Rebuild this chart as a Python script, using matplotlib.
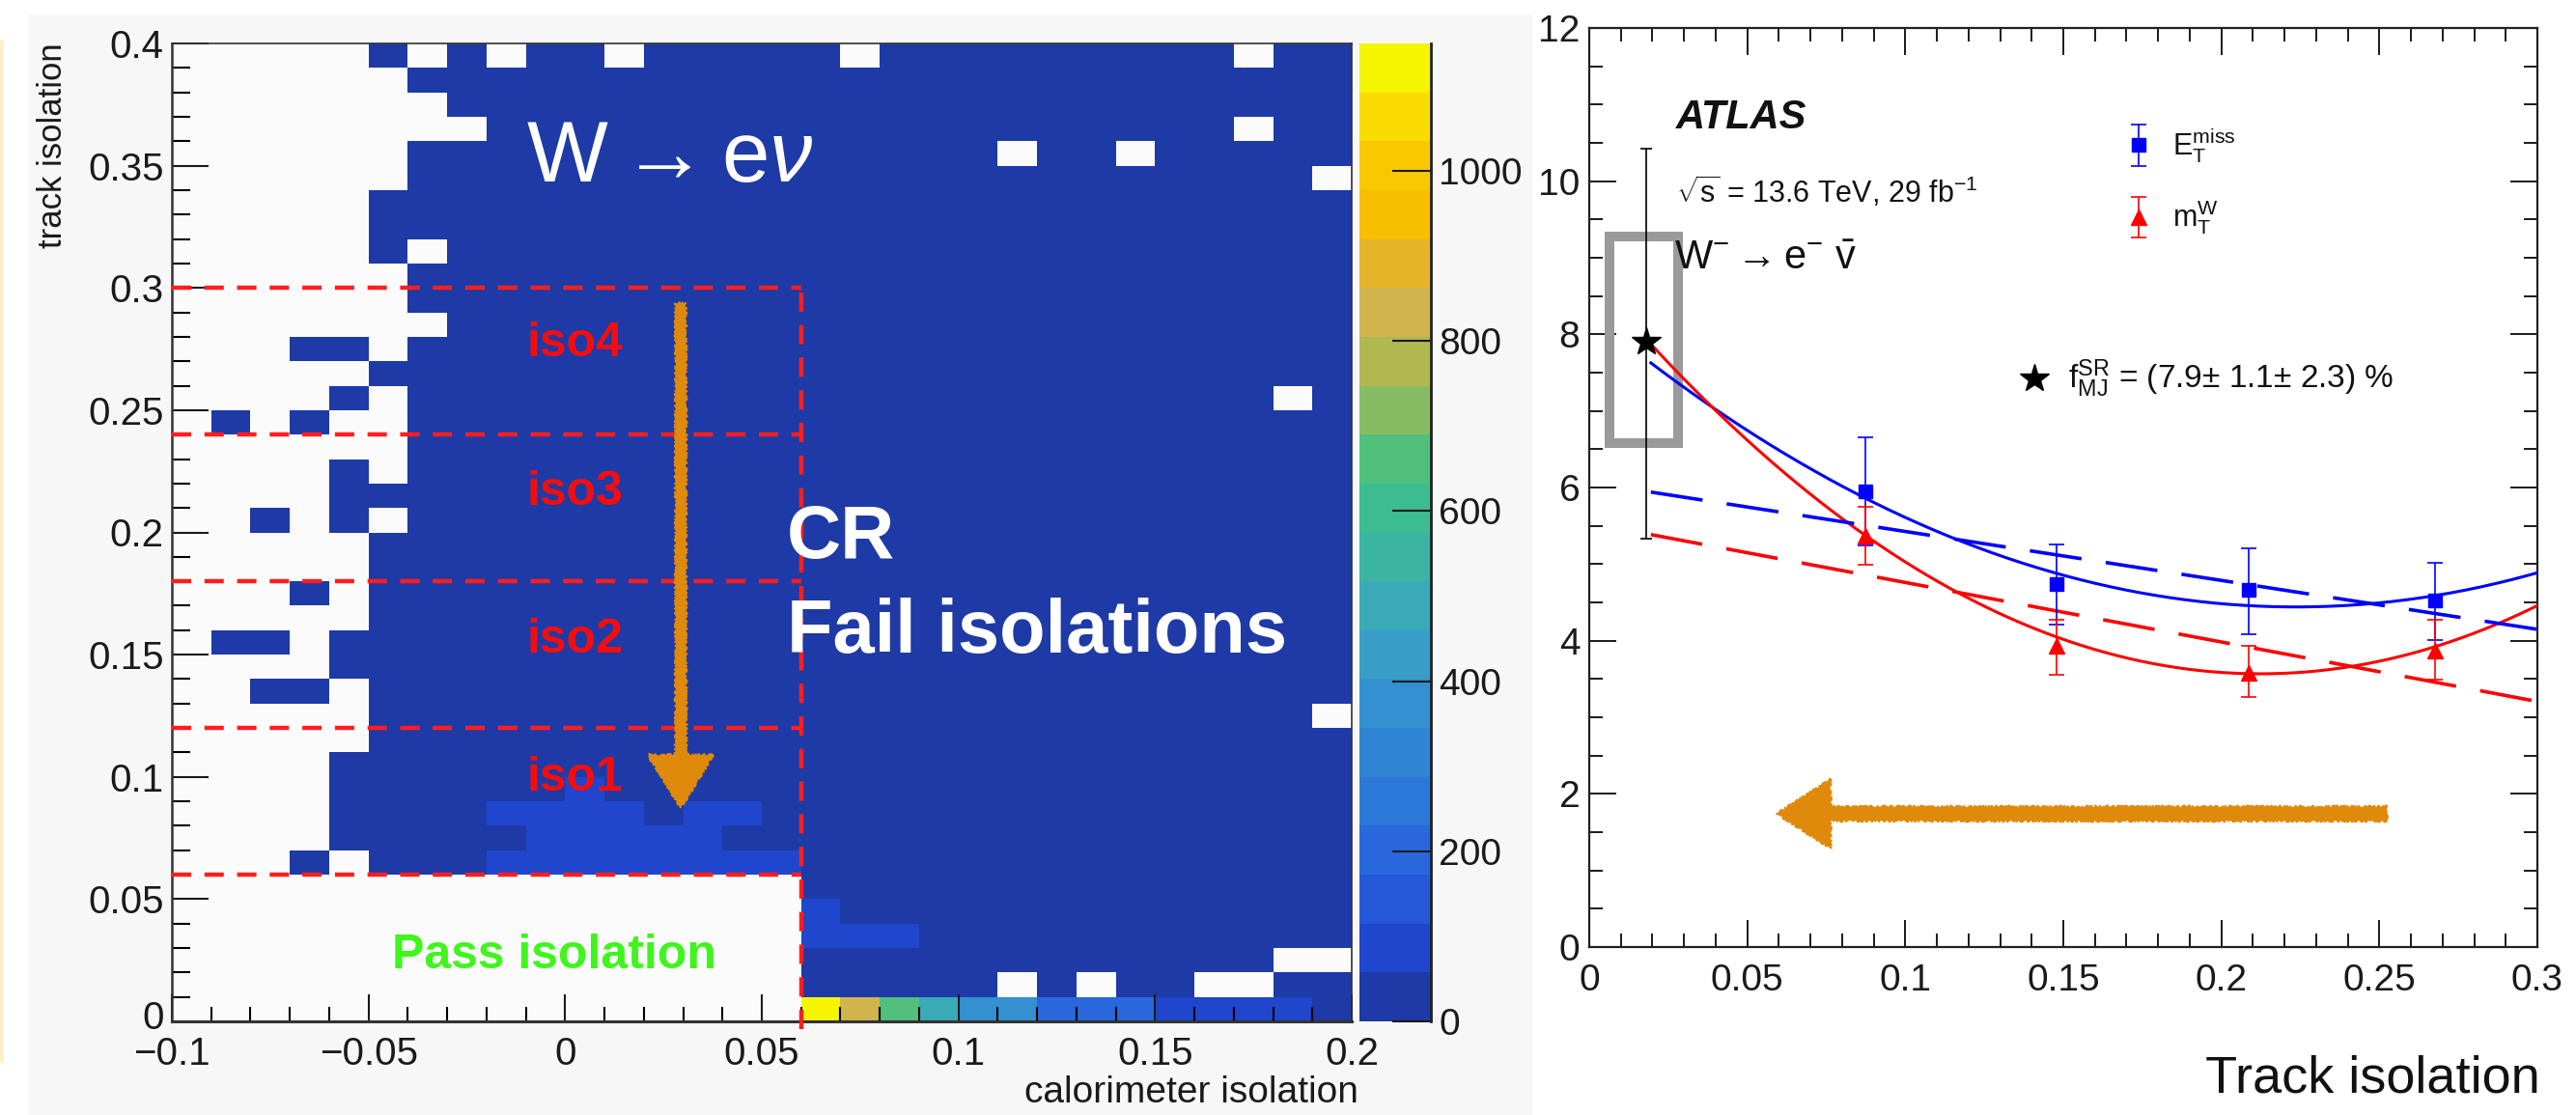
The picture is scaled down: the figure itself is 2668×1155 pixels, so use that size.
import numpy as np
import matplotlib
matplotlib.use("Agg")
import matplotlib.pyplot as plt
import matplotlib.transforms as mtransforms
from matplotlib.colors import ListedColormap, BoundaryNorm
from matplotlib.patches import Rectangle, FancyArrow
from matplotlib.ticker import MultipleLocator, FuncFormatter

plt.rcParams['font.family'] = ['Liberation Sans', 'DejaVu Sans']
plt.rcParams['mathtext.fontset'] = 'custom'
plt.rcParams['mathtext.rm'] = 'Liberation Sans'
plt.rcParams['mathtext.it'] = 'Liberation Sans:italic'
plt.rcParams['mathtext.bf'] = 'Liberation Sans:bold'
plt.rcParams['mathtext.sf'] = 'Liberation Sans'

# ---------------- 2D histogram: calorimeter vs track isolation ----------------
calo_edges = np.round(np.linspace(-0.10, 0.20, 31), 3)
track_edges = np.round(np.linspace(0.0, 0.40, 41), 3)

# occupancy map, top row = track isolation 0.39-0.40, columns from calo -0.10
# '.' empty bin, 'o' low-count bin, 'b' slightly higher-count bin
occupancy_rows = [
    ".....o.o.oo.ooooo.ooooooooo.oo",
    "......oooooooooooooooooooooooo",
    ".......ooooooooooooooooooooooo",
    "........ooooooooooooooooooo.oo",
    "......ooooooooooooooo.oo.ooooo",
    "......ooooooooooooooooooooooo.",
    ".....ooooooooooooooooooooooooo",
    ".....ooooooooooooooooooooooooo",
    ".....o.ooooooooooooooooooooooo",
    "......oooooooooooooooooooooooo",
    "......oooooooooooooooooooooooo",
    ".......ooooooooooooooooooooooo",
    "...oo.oooooooooooooooooooooooo",
    ".....ooooooooooooooooooooooooo",
    "....o.oooooooooooooooooooooo.o",
    ".o.o..oooooooooooooooooooooooo",
    "......oooooooooooooooooooooooo",
    "....o.oooooooooooooooooooooooo",
    "....oooooooooooooooooooooooooo",
    "..o.o.oooooooooooooooooooooooo",
    ".....ooooooooooooooooooooooooo",
    ".....ooooooooooooooooooooooooo",
    "...o.ooooooooooooooooooooooooo",
    ".....ooooooooooooooooooooooooo",
    ".oo.oooooooooooooooooooooooooo",
    "....oooooooooooooooooooooooooo",
    "..oo.ooooooooooooooooooooooooo",
    ".....oooooooooooooooooooooooo.",
    ".....ooooooooooooooooooooooooo",
    "....oooooooooooooooooooooooooo",
    "....oooooobooooooooooooooooooo",
    "....oooobbbbobbooooooooooooooo",
    "....ooooobbbbboooooooooooooooo",
    "...o.ooobbbbbbbboooooooooooooo",
    "................oooooooooooooo",
    "................booooooooooooo",
    "................bbbooooooooooo",
    "................oooooooooooo..",
    "................ooooo.o.oo..oo",
    "................oooooooooooooo",
]
code_counts = {".": 0, "o": 25, "b": 90}
# lowest track-isolation row (0-0.01) for calo bins 0.06 ... 0.20
first_row_counts = [1140, 830, 660, 460, 370, 370, 200, 200, 200, 90, 90, 90, 90, 25]

counts = np.zeros((40, 30))
for i, row in enumerate(occupancy_rows):
    counts[39 - i] = [code_counts[c] for c in row]
counts[0, 16:] = first_row_counts
counts = np.ma.masked_equal(counts, 0)

palette = ["#1e3aa6", "#1f46cc", "#2458d8", "#2868dc", "#2c78d8",
           "#3084d4", "#3490d0", "#389ec8", "#3aaab8", "#3cb4a4",
           "#3cbc90", "#50c07c", "#88bc64", "#b0b850", "#d0b44c",
           "#e6b428", "#f8be00", "#f8c800", "#fadc00", "#f5f500"]
z_max = 1150
levels = np.linspace(0, z_max, 21)
cbar_ticks = [0, 200, 400, 600, 800, 1000]

iso_cuts = [0.06, 0.12, 0.18, 0.24, 0.30]
iso_names = ["iso1", "iso2", "iso3", "iso4"]
iso_label_y = [0.0995, 0.156, 0.2164, 0.2772]

# ---------------- fake-fraction vs track isolation ----------------
trk_x = [0.0875, 0.148, 0.2088, 0.2675]
met_y = [5.95, 4.74, 4.66, 4.52]
met_lo = [5.24, 4.21, 4.08, 4.01]
met_hi = [6.66, 5.26, 5.20, 5.02]
mtw_y = [5.37, 3.93, 3.58, 3.87]
mtw_lo = [4.99, 3.56, 3.27, 3.49]
mtw_hi = [5.75, 4.27, 3.93, 4.27]

sr_x = 0.018
sr_y = 7.9
sr_lo = 5.33
sr_hi = 10.43

# fit parameters (polynomial coefficients, highest power first)
met_quad = [76.5, -34.21, 8.265]
mtw_quad = [115.8, -49.17, 8.787]
met_lin = [-6.39, 6.065]
mtw_lin = [-7.77, 5.537]
fit_range = [0.0195, 0.30]

# ---------------- figure ----------------
W, H = 2668, 1155
fig = plt.figure(figsize=(W / 100, H / 100), dpi=100)
fig.patch.set_facecolor("white")


def px_box(x0, y0, x1, y1):
    return [x0 / W, 1 - y1 / H, (x1 - x0) / W, (y1 - y0) / H]


# panel backdrop behind the histogram
fig.patches.append(Rectangle((29 / W, 0), 1558 / W, 1140 / H,
                             transform=fig.transFigure, facecolor="#f7f7f7",
                             edgecolor="none", zorder=-10))
fig.patches.append(Rectangle((0, 1 - 1101 / H), 4 / W, (1101 - 42) / H,
                             transform=fig.transFigure, facecolor="#fdf0c8",
                             edgecolor="none", zorder=-10))

ax = fig.add_axes(px_box(178, 45, 1400, 1058))
cax = fig.add_axes(px_box(1408, 45, 1482, 1058))
ax2 = fig.add_axes(px_box(1646, 29, 2628, 981))

# --- histogram
cmap = ListedColormap(palette)
norm = BoundaryNorm(levels, cmap.N)
ax.set_facecolor("#fbfbfb")
mesh = ax.pcolormesh(calo_edges, track_edges, counts, cmap=cmap, norm=norm)
ax.set_xlim(-0.1, 0.2)
ax.set_ylim(0, 0.4)


def fmt(v, p):
    return ("%g" % round(v, 3)).replace("-", "\u2212")


ax.xaxis.set_major_locator(MultipleLocator(0.05))
ax.xaxis.set_minor_locator(MultipleLocator(0.01))
ax.yaxis.set_major_locator(MultipleLocator(0.05))
ax.yaxis.set_minor_locator(MultipleLocator(0.01))
ax.xaxis.set_major_formatter(FuncFormatter(fmt))
ax.yaxis.set_major_formatter(FuncFormatter(fmt))
ax.tick_params(axis="x", which="major", direction="in", length=20, width=1.5,
               labelsize=29, pad=11, colors="#1a1a1a")
ax.tick_params(axis="x", which="minor", direction="in", length=11, width=1.5)
ax.tick_params(axis="y", which="major", direction="in", length=27, width=1.5,
               labelsize=29, pad=6, colors="#1a1a1a")
ax.tick_params(axis="y", which="minor", direction="in", length=14, width=1.5)
for s in ax.spines.values():
    s.set_linewidth(1.2)
    s.set_color("#333333")
ax.spines["bottom"].set_linewidth(2.2)
ax.spines["left"].set_linewidth(1.8)

# isolation region boundaries
dash = (0, (4.5, 3.1))
for yc in iso_cuts:
    ax.plot([-0.1, iso_cuts[0]], [yc, yc], color="#ff1e1e", lw=3.2,
            linestyle=dash, zorder=4, clip_on=False)
ax.plot([iso_cuts[0], iso_cuts[0]], [-0.003, iso_cuts[-1]], color="#ff1e1e",
        lw=3.2, linestyle=dash, zorder=4, clip_on=False)

for name, yl in zip(iso_names, iso_label_y):
    ax.text(-0.0099, yl, name, color="#f50d0d", fontsize=36, fontweight="bold",
            ha="left", va="center", zorder=5)
ax.text(-0.0028, 0.0268, "Pass isolation", color="#3ff51d", fontsize=36,
        fontweight="bold", ha="center", va="center", zorder=5)
ax.text(0.0564, 0.1978, "CR", color="white", fontsize=56, fontweight="bold",
        ha="left", va="center", zorder=5)
ax.text(0.0564, 0.1591, "Fail isolations", color="white", fontsize=56,
        fontweight="bold", ha="left", va="center", zorder=5)
ax.text(-0.0099, 0.3526, r"W$\rightarrow$e$\nu$", color="white", fontsize=64,
        ha="left", va="center", zorder=5)

down_arrow = FancyArrow(0.0294, 0.2938, 0, -0.2065, width=0.0027,
                        head_width=0.0167, head_length=0.0217,
                        length_includes_head=True, facecolor="#df8a0b",
                        edgecolor="#df8a0b", lw=1.0, zorder=6)
down_arrow.set_sketch_params(scale=1.2, length=6, randomness=4)
ax.add_patch(down_arrow)

# --- colour scale
cbar = fig.colorbar(mesh, cax=cax, ticks=cbar_ticks, spacing="proportional")
cbar.outline.set_visible(False)
cax.plot([1, 1], [0, 1], transform=cax.transAxes, color="#222222", lw=2,
         clip_on=False)
cax.yaxis.set_ticks_position("right")
cax.tick_params(axis="y", which="major", direction="in", length=29, width=1.5,
                labelsize=28, pad=6, colors="#1a1a1a")
cax.minorticks_off()

fig.text(55 / W, 1 - 151 / H, "track isolation", rotation=90, fontsize=25,
         ha="center", va="center", color="#1a1a1a")
fig.text(1407 / W, 1 - 1132 / H, "calorimeter isolation", fontsize=28,
         ha="right", va="center", color="#1a1a1a")

# ---------------- right panel ----------------
ax2.set_xlim(0, 0.3)
ax2.set_ylim(0, 12)
ax2.xaxis.set_major_locator(MultipleLocator(0.05))
ax2.xaxis.set_minor_locator(MultipleLocator(0.01))
ax2.yaxis.set_major_locator(MultipleLocator(2))
ax2.yaxis.set_minor_locator(MultipleLocator(0.5))
ax2.xaxis.set_major_formatter(FuncFormatter(fmt))
ax2.yaxis.set_major_formatter(FuncFormatter(fmt))
ax2.tick_params(which="both", direction="in", top=True, right=True, width=1.4,
                colors="#1a1a1a")
ax2.tick_params(which="major", length=20, labelsize=28)
ax2.tick_params(which="minor", length=10)
ax2.tick_params(axis="x", which="major", pad=12)
ax2.tick_params(axis="y", which="major", pad=7)
for s in ax2.spines.values():
    s.set_linewidth(1.6)
    s.set_color("#222222")

xf = np.linspace(fit_range[0], fit_range[1], 300)
ax2.plot(xf, np.polyval(met_quad, xf), color="#0000ff", lw=2.2, zorder=3)
ax2.plot(xf, np.polyval(mtw_quad, xf), color="#ff0000", lw=2.2, zorder=3)
ax2.plot(xf, np.polyval(met_lin, xf), color="#0000ff", lw=2.6,
         linestyle=(0, (15, 7)), zorder=3)
ax2.plot(xf, np.polyval(mtw_lin, xf), color="#ff0000", lw=2.6,
         linestyle=(0, (15, 7)), zorder=3)

met_err = [np.subtract(met_y, met_lo), np.subtract(met_hi, met_y)]
mtw_err = [np.subtract(mtw_y, mtw_lo), np.subtract(mtw_hi, mtw_y)]
ax2.errorbar(trk_x, met_y, yerr=met_err, fmt="s", color="#0000ff",
             markersize=10, elinewidth=1.2, capsize=6, capthick=1.2, zorder=4)
ax2.errorbar(trk_x, mtw_y, yerr=mtw_err, fmt="^", color="#ff0000",
             markersize=11, elinewidth=1.2, capsize=6, capthick=1.2, zorder=5)
ax2.errorbar([sr_x], [sr_y], yerr=[[sr_y - sr_lo], [sr_hi - sr_y]], fmt="*",
             color="black", markersize=22, elinewidth=1.2, capsize=4,
             capthick=1.2, zorder=6)

ax2.add_patch(Rectangle((0.0064, 6.58), 0.0217, 2.70, fill=False,
                        edgecolor="#9a9a9a", lw=7.2, joinstyle="miter",
                        zorder=2))

# legend
ax2.errorbar([0.1738], [10.47], yerr=0.27, fmt="s", color="#0000ff",
             markersize=10, elinewidth=1.2, capsize=6, capthick=1.2)
ax2.errorbar([0.1738], [9.53], yerr=0.27, fmt="^", color="#ff0000",
             markersize=11, elinewidth=1.2, capsize=6, capthick=1.2)
ax2.text(0.1845, 10.47, r"E$_{\mathrm{T}}^{\mathrm{miss}}$", fontsize=22,
         ha="left", va="center", color="#111111")
ax2.text(0.1845, 9.53, r"m$_{\mathrm{T}}^{\mathrm{W}}$", fontsize=22,
         ha="left", va="center", color="#111111")

ax2.text(0.0275, 10.83, "ATLAS", fontsize=30, fontweight="bold",
         fontstyle="italic", ha="left", va="center", color="#111111")
ax2.text(0.0275, 9.86, r"$\sqrt{\mathrm{s}}$ = 13.6 TeV, 29 fb$^{-1}$",
         fontsize=22, ha="left", va="center", color="#111111")
ax2.text(0.027, 8.99, r"W$^{-}\rightarrow$e$^{-}$ $\bar{\mathrm{v}}$",
         fontsize=30, ha="left", va="center", color="#111111")

ax2.plot([0.1409], [7.42], marker="*", color="black", markersize=22)
ax2.text(0.1515, 7.42,
         r"f$_{\mathrm{MJ}}^{\mathrm{SR}}$ = (7.9$\pm$ 1.1$\pm$ 2.3) %",
         fontsize=24, ha="left", va="center", color="#111111")

left_arrow = FancyArrow(0.2524, 1.74, -0.1931, 0, width=0.19, head_width=0.9,
                        head_length=0.0171, length_includes_head=True,
                        facecolor="#df8a0b", edgecolor="#df8a0b", lw=1.0,
                        zorder=6)
left_arrow.set_sketch_params(scale=1.2, length=6, randomness=4)
ax2.add_patch(left_arrow)

fig.text(2631 / W, 1 - 1117 / H, "Track isolation", fontsize=39,
         ha="right", va="center", color="#111111")

# lift the "0" label of the histogram's y axis clear of the "-0.1" below it
fig.canvas.draw()
for tick in ax.yaxis.get_major_ticks():
    if abs(tick.get_loc()) < 1e-9:
        tick.label1.set_transform(
            tick.label1.get_transform()
            + mtransforms.ScaledTranslation(0, 7 / 100, fig.dpi_scale_trans))

fig.savefig("out.png", dpi=100, facecolor=fig.get_facecolor())
